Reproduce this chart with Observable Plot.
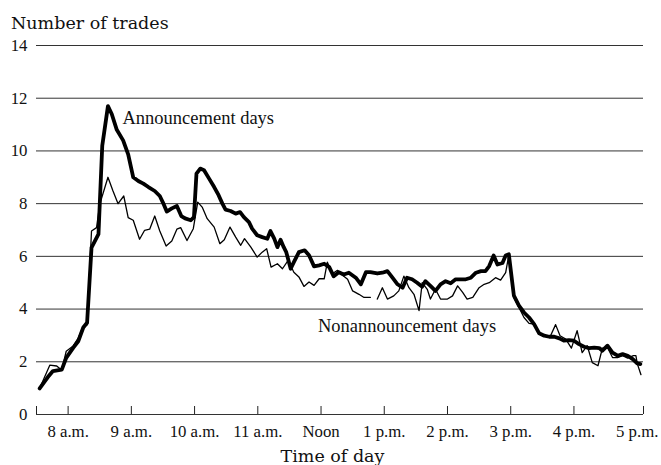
<!DOCTYPE html>
<html><head><meta charset="utf-8">
<script src="https://cdn.jsdelivr.net/npm/d3@7"></script>
<script src="https://cdn.jsdelivr.net/npm/@observablehq/plot@0.6"></script>
<style>
html,body{margin:0;padding:0;background:#fff;overflow:hidden;}
#title{font-family:"DejaVu Serif";font-size:17.5px;line-height:17.5px;height:21px;padding:15px 0 0 11px;color:#111;}
#xlabel{font-family:"DejaVu Serif";font-size:17.5px;line-height:17px;height:17px;width:661px;text-align:center;padding-left:4px;box-sizing:border-box;color:#111;}
#chart svg{display:block;}
</style></head><body>
<div id="title">Number of trades</div>
<div id="chart"></div>
<div id="xlabel">Time of day</div>
<script>
// Time in decimal hours (7.5 = 7:30 a.m.)
const announceT = [7.55,7.68,7.76,7.90,7.97,8.08,8.16,8.24,8.30,8.37,8.48,8.54,8.63,8.69,8.77,8.87,8.95,9.03,9.11,9.19,9.27,9.37,9.45,9.50,9.56,9.64,9.72,9.79,9.85,9.94,9.99,10.03,10.09,10.15,10.23,10.31,10.38,10.44,10.49,10.57,10.65,10.72,10.78,10.86,10.91,10.99,11.07,11.15,11.20,11.26,11.31,11.36,11.41,11.45,11.52,11.57,11.65,11.74,11.81,11.89,11.97,12.05,12.13,12.20,12.28,12.36,12.44,12.55,12.63,12.71,12.78,12.89,12.97,13.05,13.13,13.21,13.29,13.36,13.44,13.52,13.60,13.65,13.73,13.81,13.89,13.97,14.05,14.13,14.21,14.29,14.37,14.45,14.53,14.60,14.66,14.73,14.79,14.87,14.92,14.97,15.05,15.13,15.21,15.29,15.37,15.45,15.53,15.61,15.69,15.77,15.84,15.92,16.00,16.08,16.16,16.24,16.32,16.40,16.45,16.53,16.61,16.69,16.77,16.85,16.93,17.00,17.05];
const announceV = [0.99,1.42,1.65,1.70,2.15,2.53,2.78,3.30,3.48,6.33,6.84,10.2,11.7,11.4,10.8,10.4,9.87,9.0,8.86,8.76,8.63,8.48,8.29,8.04,7.70,7.82,7.91,7.53,7.44,7.37,7.49,9.14,9.33,9.27,8.95,8.63,8.32,8.00,7.77,7.72,7.62,7.68,7.49,7.30,7.05,6.80,6.73,6.67,6.96,6.67,6.35,6.63,6.35,6.16,5.53,5.78,6.16,6.23,6.04,5.62,5.66,5.72,5.59,5.24,5.40,5.31,5.38,5.19,4.94,5.40,5.40,5.35,5.38,5.44,5.19,4.94,4.81,5.19,5.13,5.00,4.85,5.06,4.88,4.69,4.94,5.06,4.98,5.13,5.13,5.13,5.19,5.38,5.44,5.44,5.63,6.03,5.69,5.75,6.03,6.08,4.51,4.13,3.87,3.68,3.43,3.08,2.99,2.95,2.95,2.89,2.80,2.82,2.80,2.67,2.57,2.52,2.54,2.52,2.42,2.61,2.35,2.23,2.29,2.23,2.10,1.94,1.91];

const nonannT = [7.55,7.71,7.82,7.90,7.97,8.08,8.16,8.24,8.30,8.37,8.45,8.50,8.63,8.71,8.79,8.88,8.95,9.03,9.13,9.21,9.29,9.37,9.45,9.55,9.64,9.72,9.78,9.88,9.98,10.05,10.12,10.20,10.31,10.40,10.47,10.56,10.65,10.73,10.79,10.89,10.99,11.07,11.14,11.21,11.31,11.39,11.48,11.57,11.65,11.73,11.81,11.89,11.97,12.05,12.10,12.18,12.26,12.34,12.42,12.50,12.60,12.68,12.78,12.83,12.89,12.97,13.05,13.15,13.23,13.31,13.39,13.47,13.55,13.60,13.68,13.73,13.81,13.89,14.00,14.08,14.16,14.24,14.31,14.40,14.50,14.58,14.66,14.76,14.84,14.92,14.97,15.05,15.13,15.21,15.29,15.37,15.45,15.53,15.63,15.71,15.78,15.87,15.96,16.05,16.13,16.21,16.29,16.38,16.45,16.53,16.61,16.69,16.77,16.85,16.94,16.98,17.00,17.06];
const nonannV = [1.0,1.87,1.84,1.68,2.40,2.60,2.90,3.35,3.40,6.96,7.09,7.97,9.00,8.48,8.00,8.29,7.47,7.37,6.65,6.99,7.03,7.53,6.96,6.39,6.58,7.03,7.09,6.60,7.05,8.06,7.87,7.43,7.11,6.48,6.63,7.11,6.73,6.42,6.67,6.35,5.97,6.16,6.29,5.59,5.72,5.53,5.85,5.40,5.22,4.86,5.03,4.90,5.15,5.15,5.78,5.34,5.47,5.28,5.13,4.69,4.56,4.44,4.44,null,4.38,4.81,4.38,4.50,4.69,5.25,4.81,4.56,3.94,5.00,4.75,4.38,4.75,4.38,4.38,4.50,4.88,4.63,4.38,4.44,4.81,4.94,5.00,5.19,5.10,5.38,6.05,4.44,4.06,3.68,3.46,3.43,3.05,2.99,2.99,3.41,2.99,2.86,2.52,3.18,2.35,2.61,1.97,1.85,2.52,2.54,2.16,2.16,2.23,2.14,2.23,2.23,1.94,1.51];

const yTicks = [0,2,4,6,8,10,12,14];
const xTickMarks = [7.5,8,9,10,11,12,13,14,15,16,17.1];
const xLabelHours = [8,9,10,11,12,13,14,15,16,17];
const xLabelText = ["8 a.m.","9 a.m.","10 a.m.","11 a.m.","Noon","1 p.m.","2 p.m.","3 p.m.","4 p.m.","5 p.m."];
const noteText = ["Announcement days","Nonannouncement days"];
const noteT = [8.86, 14.77];
const noteV = [11.24, 3.36];
const noteAnchor = ["start","end"];

const ann = announceT.map((t,i)=>({t, v: announceV[i]}));
const non = nonannT.map((t,i)=>({t, v: nonannV[i]}));
const notes = noteText.map((s,i)=>({s, t: noteT[i], v: noteV[i], a: noteAnchor[i]}));
const labelMap = new Map(xLabelHours.map((h,i)=>[h, xLabelText[i]]));

const plot = Plot.plot({
  width: 661, height: 412,
  marginTop: 9, marginBottom: 34, marginLeft: 36, marginRight: 18,
  style: {fontFamily: "Liberation Serif", fontSize: "16.8px", color: "#111", background: "#fff", overflow: "visible"},
  x: {domain: [7.5, 17.1]},
  y: {domain: [0, 14]},
  marks: [
    Plot.ruleY(yTicks, {stroke: "#333", strokeWidth: 1}),
    Plot.axisY({ticks: yTicks, tickSize: 0, tickPadding: 9, label: null, fontSize: 16.8}),
    Plot.axisX({ticks: xTickMarks, tickSize: -8, fill: "none", stroke: "#222", label: null}),
    Plot.axisX({ticks: xLabelHours, tickSize: 0, tickPadding: 11, tickFormat: d => labelMap.get(d), label: null, fontSize: 16.8}),
    Plot.line(non, {x: "t", y: "v", stroke: "#000", strokeWidth: 1.3, strokeLinejoin: "round"}),
    Plot.line(ann, {x: "t", y: "v", stroke: "#000", strokeWidth: 3.8, strokeLinejoin: "round"}),
    Plot.text(notes.filter(d=>d.a==="start"), {x: "t", y: "v", text: "s", textAnchor: "start", fontSize: 18.5, fill: "#111"}),
    Plot.text(notes.filter(d=>d.a==="end"), {x: "t", y: "v", text: "s", textAnchor: "end", fontSize: 18.5, fill: "#111"})
  ]
});
document.getElementById("chart").appendChild(plot);
</script>
</body></html>
